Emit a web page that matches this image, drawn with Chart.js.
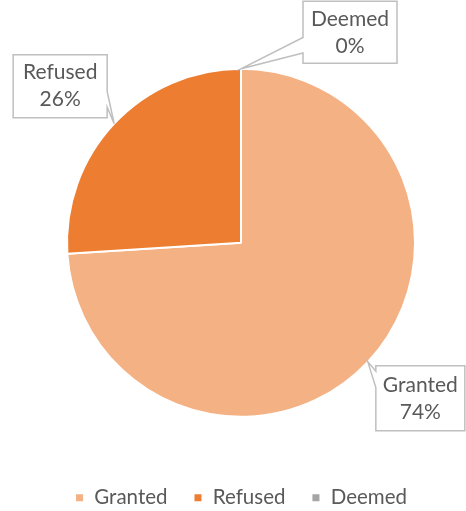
<!DOCTYPE html>
<html>
<head>
<meta charset="utf-8">
<script src="https://cdn.jsdelivr.net/npm/chart.js@4"></script>
<style>
html,body{margin:0;padding:0;background:#fff;}
#wrap{width:466px;height:511px;position:relative;}
</style>
</head>
<body>
<div id="wrap"><canvas id="c" width="466" height="511"></canvas></div>
<script>
const categories = ["Granted", "Refused", "Deemed"];
const shares = [74, 26, 0];
const percentLabels = ["74%", "26%", "0%"];
const sliceColors = ["#F4B183", "#ED7D31", "#A5A5A5"];

const FONT = "Lato, 'Open Sans', sans-serif";
const TEXT = "#595959";

// callout boxes: offset of box centre from the slice's outer midpoint, and box size
const calloutBoxes = [
  {dx: 52.5, dy: 36.5, w: 89, h: 65},
  {dx: -54, dy: -37.5, w: 94, h: 63},
  {dx: 109, dy: -36.5, w: 94, h: 62}
];

const calloutPlugin = {
  id: 'callouts',
  afterDatasetsDraw(chart) {
    const ctx = chart.ctx;
    const meta = chart.getDatasetMeta(0);
    meta.data.forEach((arc, i) => {
      const p = arc.getProps(['x','y','startAngle','endAngle','outerRadius'], true);
      const mid = (p.startAngle + p.endAngle) / 2;
      const tx = p.x + Math.cos(mid) * p.outerRadius;
      const ty = p.y + Math.sin(mid) * p.outerRadius;
      const b = calloutBoxes[i];
      const cx = tx + b.dx, cy = ty + b.dy;
      const L = cx - b.w/2, R = cx + b.w/2, T = cy - b.h/2, B = cy + b.h/2;
      ctx.save();
      ctx.beginPath();
      const lower = ty > cy;
      const f1 = lower ? 7/12 : 1/12, f2 = lower ? 10/12 : 4/12;
      if (tx < L) {
        ctx.moveTo(L, T); ctx.lineTo(R, T); ctx.lineTo(R, B); ctx.lineTo(L, B);
        ctx.lineTo(L, T + f2*b.h); ctx.lineTo(tx, ty); ctx.lineTo(L, T + f1*b.h);
        ctx.closePath();
      } else if (tx > R) {
        ctx.moveTo(L, T); ctx.lineTo(R, T); ctx.lineTo(R, T + f1*b.h); ctx.lineTo(tx, ty);
        ctx.lineTo(R, T + f2*b.h); ctx.lineTo(R, B); ctx.lineTo(L, B);
        ctx.closePath();
      } else {
        ctx.rect(L, T, b.w, b.h);
      }
      ctx.fillStyle = '#ffffff';
      ctx.fill();
      ctx.strokeStyle = '#BFBFBF';
      ctx.lineWidth = 1.5;
      ctx.stroke();
      ctx.fillStyle = TEXT;
      ctx.font = "21px " + FONT;
      ctx.textAlign = 'center';
      ctx.textBaseline = 'middle';
      ctx.fillText(chart.data.labels[i], cx, cy - 13.5);
      ctx.fillText(percentLabels[i], cx, cy + 13.5);
      ctx.restore();
    });
  }
};

new Chart(document.getElementById('c'), {
  type: 'pie',
  data: {
    labels: categories,
    datasets: [{
      data: shares,
      backgroundColor: sliceColors,
      borderColor: '#ffffff',
      borderWidth: 2,
      radius: 174
    }]
  },
  options: {
    responsive: false,
    animation: false,
    events: [],
    layout: {padding: {left: 16, top: 24, bottom: -7}},
    plugins: {
      tooltip: {enabled: false},
      legend: {
        position: 'bottom',
        labels: {
          boxWidth: 9, boxHeight: 9,
          color: TEXT,
          padding: 26,
          font: {family: FONT, size: 20.5}
        }
      }
    }
  },
  plugins: [calloutPlugin]
});
</script>
</body>
</html>
